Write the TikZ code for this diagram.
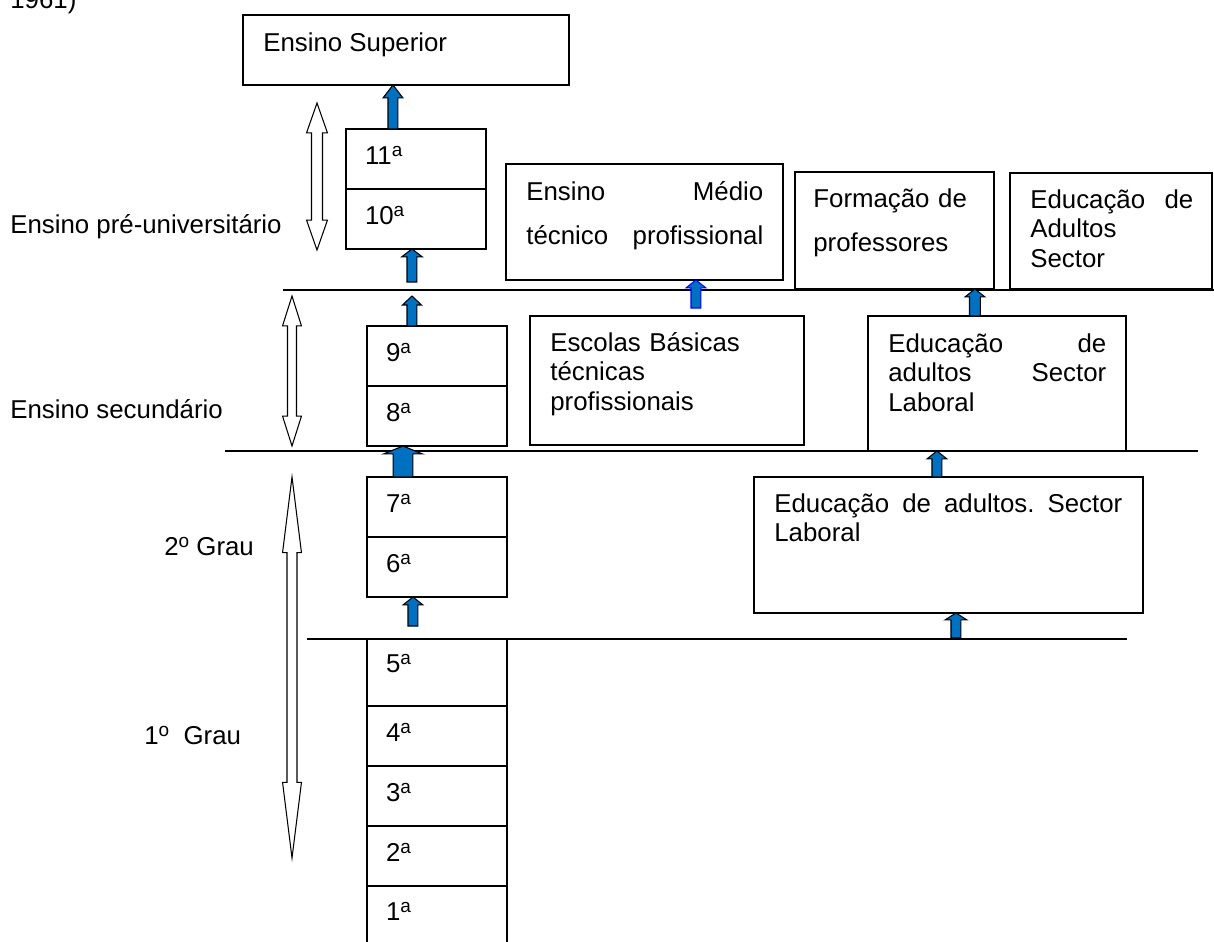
\documentclass[tikz,border=0pt]{standalone}
\usepackage{fontspec}
\setmainfont{Liberation Sans}
\usetikzlibrary{calc}
\usetikzlibrary{positioning}

\definecolor{arrowblue}{RGB}{0,112,192}
\definecolor{edgeblue}{RGB}{0,0,255}

\newcommand{\pxu}{0.5669pt}
\newcommand{\txtfont}{\fontsize{14.7pt}{17pt}\selectfont}
\newcommand{\widefont}{\fontsize{14.7pt}{25.5pt}\selectfont}
\newcommand{\ordsup}[1]{\raisebox{0.31em}{\fontsize{10.8pt}{12pt}\selectfont #1}}

% block arrow pointing up: [style]{bottom}{top}{shaft half}{head half}{head length}
\newcommand{\blkarrow}[6][]{%
  \filldraw[blockfill,#1] let \p1=(#2), \p2=(#3) in
    ({\x1-#4*\pxu},\y1) -- ({\x1-#4*\pxu},{\y2-#6*\pxu}) -- ({\x1-#5*\pxu},{\y2-#6*\pxu})
    -- (\x1,\y2) -- ({\x1+#5*\pxu},{\y2-#6*\pxu}) -- ({\x1+#4*\pxu},{\y2-#6*\pxu})
    -- ({\x1+#4*\pxu},\y1) -- cycle;}

% hollow double arrow: {top}{bottom}{shaft half}{head half}{head length}
\newcommand{\dblarrow}[5]{%
  \filldraw[dblfill] let \p1=(#1), \p2=(#2) in
    (\x1,\y1) -- ({\x1+#4*\pxu},{\y1-#5*\pxu}) -- ({\x1+#3*\pxu},{\y1-#5*\pxu})
    -- ({\x1+#3*\pxu},{\y2+#5*\pxu}) -- ({\x1+#4*\pxu},{\y2+#5*\pxu}) -- (\x1,\y2)
    -- ({\x1-#4*\pxu},{\y2+#5*\pxu}) -- ({\x1-#3*\pxu},{\y2+#5*\pxu})
    -- ({\x1-#3*\pxu},{\y1-#5*\pxu}) -- ({\x1-#4*\pxu},{\y1-#5*\pxu}) -- cycle;}

\tikzset{
  box/.style={draw, line width=0.8pt, anchor=north west, inner sep=0pt, outer sep=0pt},
  grade/.style={box, minimum width=2.8cm, minimum height=1.2cm, text width=2.04cm,
                inner xsep=0.38cm, align=left, text height=10.6pt, text depth=4.6pt, font=\txtfont},
  boxtext/.style={anchor=base west, inner sep=0pt, font=\txtfont},
  rule/.style={line width=0.8pt},
  blockfill/.style={fill=arrowblue, draw=black, line width=0.6pt},
  dblfill/.style={fill=white, draw=black, line width=0.6pt},
}

\begin{document}
\begin{tikzpicture}[x=0.02cm, y=-0.02cm]
  \useasboundingbox (0,0) rectangle (1214,941);

  % level rules
  \coordinate (l1w) at (283,290);   \coordinate (l1e) at (1214,290);
  \coordinate (l2w) at (225,451);   \coordinate (l2e) at (1198,451);
  \coordinate (l3w) at (307,639);   \coordinate (l3e) at (1127,639);
  \draw[rule] (l1w) -- (l1e);
  \draw[rule] (l2w) -- (l2e);
  \draw[rule] (l3w) -- (l3e);

  % grade columns
  \node[grade] (g11) at (346,129) {11\ordsup{a}};
  \node[grade, below=0pt of g11] (g10) {10\ordsup{a}};
  \node[grade] (g9) at (367,326) {9\ordsup{a}};
  \node[grade, below=0pt of g9] (g8) {8\ordsup{a}};
  \node[grade] (g7) at (367,477) {7\ordsup{a}};
  \node[grade, below=0pt of g7] (g6) {6\ordsup{a}};
  \node[grade, minimum height=1.34cm, text depth=10.6pt] (g5) at (367,639) {5\ordsup{a}};
  \node[grade, below=0pt of g5] (g4) {4\ordsup{a}};
  \node[grade, below=0pt of g4] (g3) {3\ordsup{a}};
  \node[grade, below=0pt of g3] (g2) {2\ordsup{a}};
  \node[grade, below=0pt of g2, text depth=5.7pt] (g1) {1\ordsup{a}};

  % other boxes
  \node[box, minimum width=6.52cm, minimum height=1.40cm] (sup) at (243,15) {};
  \node[box, minimum width=5.54cm, minimum height=2.32cm] (medio) at (506,164) {};
  \node[box, minimum width=3.98cm, minimum height=2.34cm] (form) at (795,172) {};
  \node[box, minimum width=4.04cm, minimum height=2.32cm] (adul) at (1010,173) {};
  \node[box, minimum width=5.48cm, minimum height=2.58cm] (esc) at (530,316) {};
  \node[box, minimum width=5.16cm, minimum height=2.70cm] (eal) at (868,316) {};
  \node[box, minimum width=7.78cm, minimum height=2.72cm] (ead) at (754,477) {};

  % box texts
  \node[boxtext] (sup-t) at ($(sup.north west)+(20,36)$) {Ensino Superior};
  \node[boxtext, text width=4.74cm, align=left, font=\widefont] (medio-t) at ($(medio.north west)+(20,36)$)
       {Ensino\hfill Médio\\técnico\hfill profissional};
  \node[boxtext, text width=3.4cm, align=left, font=\widefont] (form-t) at ($(form.north west)+(18,35)$)
       {Formação de\\professores};
  \node[boxtext, text width=3.26cm, align=left] (adul-t) at ($(adul.north west)+(20,35)$)
       {Educação\hfill de\\Adultos\\Sector};
  \node[boxtext, text width=4.5cm, align=left] (esc-t) at ($(esc.north west)+(20,35)$)
       {Escolas Básicas\\técnicas\\profissionais};
  \node[boxtext, text width=4.36cm, align=left] (eal-t) at ($(eal.north west)+(20,36)$)
       {Educação\hfill de\\adultos\hfill Sector\\Laboral};
  \node[boxtext, text width=6.96cm, align=left] (ead-t) at ($(ead.north west)+(20,35)$)
       {Educação\hfill de\hfill adultos.\hfill Sector\\Laboral};

  % side labels
  \node[boxtext] (yr)    at (10,8)    {1961)};
  \node[boxtext] (pre)   at (10,233)  {Ensino pré-universitário};
  \node[boxtext] (sec)   at (10,418)  {Ensino secundário};
  \node[boxtext] (grau2) at (164,555) {2\ordsup{o} Grau};
  \node[boxtext] (grau1) at (144,744) {1\ordsup{o}~ Grau};

  % hollow double arrows
  \coordinate (d1t) at (317,103);   \coordinate (d1b) at (317,250);
  \coordinate (d2t) at (292,296);   \coordinate (d2b) at (292,446);
  \coordinate (d3t) at (292,477);   \coordinate (d3b) at (292,858);
  \dblarrow{d1t}{d1b}{5.5}{10.5}{30}
  \dblarrow{d2t}{d2b}{4.5}{9.5}{30}
  \dblarrow{d3t}{d3b}{5}{9.5}{76}

  % blue block arrows
  \blkarrow{$(g11.north)+(-23,0)$}{sup.south}{5}{10}{13}            % to Ensino Superior
  \blkarrow{$(g10.south)+(-4,33)$}{g10.south}{5}{10.5}{8}           % into 10a
  \blkarrow{$(g9.north)+(-25,0)$}{$(l1w)+(0,6)$}{5}{9.5}{9}         % out of 9a
  \blkarrow{$(g7.north)+(-34,0)$}{g8.south}{10}{19.5}{8}            % 7a to 8a
  \blkarrow{$(g5.north)+(-24,-13)$}{g6.south}{5}{10}{8}             % into 6a
  \blkarrow[draw=edgeblue]{$(esc.north)+(29,-8)$}{medio.south}{5}{10}{8} % to Ensino Medio
  \blkarrow{$(eal.north)+(-22,0)$}{form.south}{5.5}{10}{8}          % to Formacao
  \blkarrow{$(ead.north)+(-11.5,0)$}{eal.south}{5}{10}{8}           % to Sector Laboral
  \blkarrow{$(ead.south)+(7.5,25)$}{ead.south}{5}{11}{7}            % into adultos
\end{tikzpicture}
\end{document}
